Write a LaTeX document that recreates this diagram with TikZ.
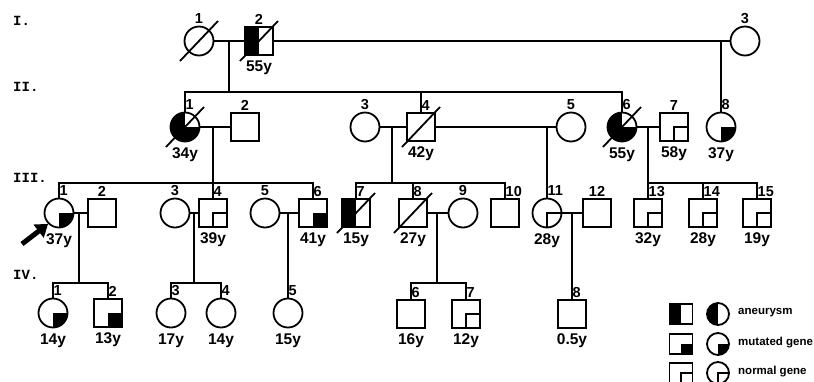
\documentclass[tikz,border=0pt]{standalone}
\usepackage{fontspec}
\setmainfont{Liberation Sans}
\setmonofont{Liberation Mono}
\usetikzlibrary{arrows.meta}

\tikzset{
  male/.style={draw, rectangle, minimum size=28pt, inner sep=0pt, line width=1.8pt},
  female/.style={draw, circle, minimum size=29pt, inner sep=0pt, line width=1.8pt},
  aneur/.style={path picture={\fill (path picture bounding box.south west) rectangle (path picture bounding box.north);}},
  mutg/.style={path picture={\fill (path picture bounding box.center) rectangle (path picture bounding box.south east);}},
  normg/.style={path picture={\draw[line width=1.8pt] (path picture bounding box.center) rectangle (path picture bounding box.south east);}},
  anmut/.style={path picture={\fill (path picture bounding box.south west) rectangle (path picture bounding box.north);
                              \fill (path picture bounding box.center) rectangle (path picture bounding box.south east);}},
  num/.style={font=\fontsize{14.5}{14.5}\selectfont\bfseries, inner sep=0.5pt},
  numr/.style={num, anchor=south west},
  age/.style={font=\fontsize{15.5}{15.5}\selectfont\bfseries, inner sep=0.5pt, yshift=-3.5pt},
  gen/.style={font=\fontsize{14}{14}\selectfont\ttfamily\bfseries, anchor=west, inner sep=0pt},
  slash/.style={line width=1.8pt},
  link/.style={line width=1.5pt},
  legm/.style={male, minimum size=0pt, minimum width=23pt, minimum height=20pt},
  legf/.style={female, minimum size=22pt},
  legtxt/.style={font=\fontsize{11.5}{11.5}\selectfont\bfseries, anchor=west, inner sep=0pt},
}

\newcommand{\deceased}[1]{\draw[slash] ([shift={(-19,20)}]#1.center) -- ([shift={(19,-20)}]#1.center);}

\begin{document}
\begin{tikzpicture}[x=1pt, y=-1pt, label distance=1pt]
\useasboundingbox (0,0) rectangle (814,381);

% generation labels
\node[gen] (gI) at (13,21) {I.};
\node[gen] (gII) at (13,87) {II.};
\node[gen] (gIII) at (13,178) {III.};
\node[gen] (gIV) at (13,275) {IV.};

% generation I
\node[female, label={[num]above:1}] (i1) at (199,41) {};
\node[male, aneur, label={[num]above:2}, label={[age]below:55y}] (i2) at (259,41) {};
\node[female, label={[num]above:3}] (i3) at (745,41) {};

% generation II
\node[female, anmut, label={[numr]above:1}, label={[age]below:34y}] (ii1) at (185,127) {};
\node[male, label={[num]above:2}] (ii2) at (245,127) {};
\node[female, label={[num]above:3}] (ii3) at (365,127) {};
\node[male, label={[numr]above:4}, label={[age]below:42y}] (ii4) at (421,127) {};
\node[female, label={[num]above:5}] (ii5) at (571,127) {};
\node[female, anmut, label={[numr]above:6}, label={[age]below:55y}] (ii6) at (622,127) {};
\node[male, normg, label={[num]above:7}, label={[age]below:58y}] (ii7) at (674,127) {};
\node[female, mutg, label={[numr]above:8}, label={[age]below:37y}] (ii8) at (721,127) {};

% generation III
\node[female, mutg, label={[numr]above:1}, label={[age]below:37y}] (iii1) at (59,213) {};
\node[male, label={[num]above:2}] (iii2) at (102,213) {};
\node[female, label={[num]above:3}] (iii3) at (175,213) {};
\node[male, normg, label={[numr]above:4}, label={[age]below:39y}] (iii4) at (213,213) {};
\node[female, label={[num]above:5}] (iii5) at (265,213) {};
\node[male, mutg, label={[numr]above:6}, label={[age]below:41y}] (iii6) at (313,213) {};
\node[male, aneur, label={[numr]above:7}, label={[age]below:15y}] (iii7) at (356,213) {};
\node[male, label={[numr]above:8}, label={[age]below:27y}] (iii8) at (413,213) {};
\node[female, label={[num]above:9}] (iii9) at (463,213) {};
\node[male, label={[numr]above:10}] (iii10) at (505,213) {};
\node[female, normg, label={[numr]above:11}, label={[age]below:28y}] (iii11) at (547,213) {};
\node[male, label={[num]above:12}] (iii12) at (597,213) {};
\node[male, normg, label={[numr]above:13}, label={[age]below:32y}] (iii13) at (648,213) {};
\node[male, normg, label={[numr]above:14}, label={[age]below:28y}] (iii14) at (703,213) {};
\node[male, normg, label={[numr]above:15}, label={[age]below:19y}] (iii15) at (757,213) {};

% generation IV
\node[female, mutg, label={[numr]above:1}, label={[age]below:14y}] (iv1) at (53,313) {};
\node[male, mutg, label={[numr]above:2}, label={[age]below:13y}] (iv2) at (108,313) {};
\node[female, label={[numr]above:3}, label={[age]below:17y}] (iv3) at (171,313) {};
\node[female, label={[numr]above:4}, label={[age]below:14y}] (iv4) at (221,313) {};
\node[female, label={[numr]above:5}, label={[age]below:15y}] (iv5) at (288,313) {};
\node[male, label={[numr]above:6}, label={[age]below:16y}] (iv6) at (411,314) {};
\node[male, normg, label={[numr]above:7}, label={[age]below:12y}] (iv7) at (466,314) {};
\node[male, label={[numr]above:8}, label={[age]below:0.5y}] (iv8) at (572,314) {};

% deceased
\deceased{i1}
\deceased{i2}
\deceased{ii1}
\deceased{ii4}
\deceased{ii6}
\deceased{iii7}
\deceased{iii8}

% lines I -> II
\draw[link] (i1) -- (i2);
\draw[link] (i2) -- (i3);
\coordinate (s2) at (229,92);
\draw[link] (i1.east -| s2) -- (s2);
\draw[link] (ii1.north) |- (s2) -| (ii6.north);
\draw[link] (ii4.north) -- (ii4.north |- s2);
\draw[link] (ii8.north |- i3.west) -- (ii8.north);

% lines II -> III
\draw[link] (ii1) -- (ii2);
\coordinate (s3a) at (213,183);
\draw[link] (s3a |- ii2.west) -- (iii4.north);
\draw[link] (iii1.north) |- (s3a) -| (iii6.north);
\draw[link] (ii3) -- (ii4);
\draw[link] (ii4) -- (ii5);
\coordinate (s3b) at (392,183);
\draw[link] (s3b |- ii3.east) -- (s3b);
\draw[link] (iii7.north) |- (s3b) -| (iii10.north);
\draw[link] (iii8.north) -- (iii8.north |- s3b);
\draw[link] (iii11.north |- ii5.west) -- (iii11.north);
\draw[link] (ii6) -- (ii7);
\coordinate (s3c) at (648,183);
\draw[link] (s3c |- ii7.west) -- (iii13.north);
\draw[link] (s3c) -| (iii15.north);
\draw[link] (iii14.north) -- (iii14.north |- s3c);

% lines III -> IV
\draw[link] (iii1) -- (iii2);
\coordinate (s4a) at (79,283);
\draw[link] (s4a |- iii2.west) -- (s4a);
\draw[link] (iv1.north) |- (s4a) -| (iv2.north);
\draw[link] (iii3) -- (iii4);
\coordinate (s4b) at (194,283);
\draw[link] (s4b |- iii4.west) -- (s4b);
\draw[link] (iv3.north) |- (s4b) -| (iv4.north);
\draw[link] (iii5) -- (iii6);
\draw[link] (iv5.north |- iii6.west) -- (iv5.north);
\draw[link] (iii8) -- (iii9);
\coordinate (s4c) at (437,283);
\draw[link] (s4c |- iii9.west) -- (s4c);
\draw[link] (iv6.north) |- (s4c) -| (iv7.north);
\draw[link] (iii11) -- (iii12);
\draw[link] (iv8.north |- iii12.west) -- (iv8.north);

% proband
\coordinate (prob) at (22,244);
\draw[line width=5pt, -{Triangle[length=12pt,width=16pt]}] (prob) -- (iii1.south west);

% legend
\node[legm, aneur] (lm1) at (681,314) {};
\node[legf, aneur] (lf1) at (718,314) {};
\node[legtxt] (lt1) at (738,313) {aneurysm};
\node[legm, mutg] (lm2) at (681,344) {};
\node[legf, mutg] (lf2) at (718,344) {};
\node[legtxt] (lt2) at (738,343) {mutated gene};
\node[legm, normg] (lm3) at (681,373) {};
\node[legf, normg] (lf3) at (718,373) {};
\node[legtxt] (lt3) at (738,372) {normal gene};
\end{tikzpicture}
\end{document}
